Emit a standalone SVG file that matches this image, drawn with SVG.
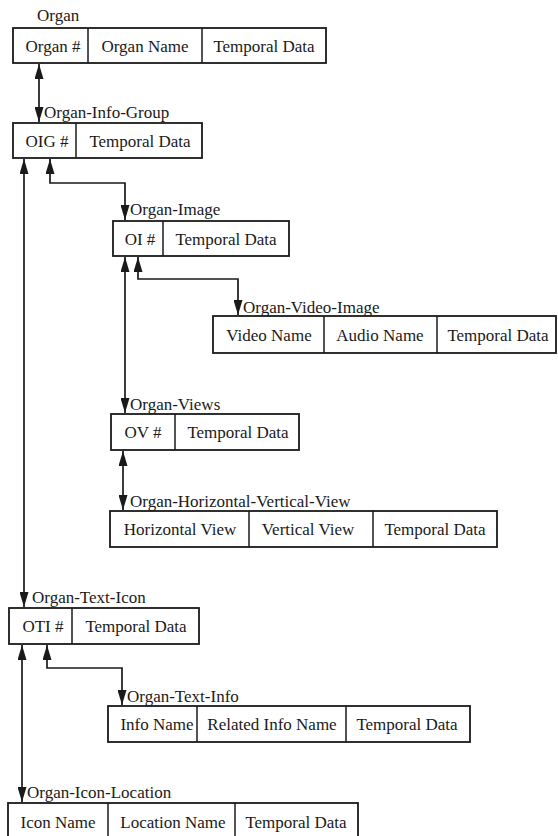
<svg xmlns="http://www.w3.org/2000/svg" width="558" height="836" viewBox="0 0 558 836">
  <style>
    .box { fill: #fff; stroke: #1a1a1a; stroke-width: 1.8; }
    .div { stroke: #1a1a1a; stroke-width: 1.5; }
    .cell { font-family: "Liberation Serif", "DejaVu Serif", "Times New Roman", serif; font-size: 17px; fill: #1a1a1a; text-anchor: middle; }
    .name { font-family: "Liberation Serif", "DejaVu Serif", "Times New Roman", serif; font-size: 17px; fill: #1a1a1a; }
    .link { fill: none; stroke: #1a1a1a; stroke-width: 1.7; marker-start: url(#head); marker-end: url(#head); }
  </style>
  <defs>
    <marker id="head" viewBox="0 0 15 9" refX="15" refY="4.5" markerWidth="15" markerHeight="9" markerUnits="userSpaceOnUse" orient="auto-start-reverse">
      <path d="M0,0 L15,4.5 L0,9 Z" fill="#1a1a1a"/>
    </marker>
  </defs>
  <rect width="558" height="836" fill="#fff"/>

  <!-- relationship connectors -->
  <g id="connectors">
    <path class="link" d="M39,64 V122"/>
    <path class="link" d="M24,159 V607"/>
    <path class="link" d="M50,159 V183 H125 V220"/>
    <path class="link" d="M125,257 V413"/>
    <path class="link" d="M138,257 V279 H238 V315"/>
    <path class="link" d="M123,451 V510"/>
    <path class="link" d="M22,645 V802"/>
    <path class="link" d="M47,645 V668 H122 V705"/>
  </g>

  <g id="organ">
    <text class="name" x="37" y="21">Organ</text>
    <rect class="box" x="13" y="28" width="313" height="35"/>
    <line class="div" x1="88" y1="28" x2="88" y2="63"/>
    <line class="div" x1="202" y1="28" x2="202" y2="63"/>
    <text class="cell" x="53" y="52">Organ #</text>
    <text class="cell" x="145" y="52">Organ Name</text>
    <text class="cell" x="264" y="52">Temporal Data</text>
  </g>

  <g id="organ-info-group">
    <text class="name" x="44" y="118">Organ-Info-Group</text>
    <rect class="box" x="13" y="123" width="189" height="35"/>
    <line class="div" x1="76" y1="123" x2="76" y2="158"/>
    <text class="cell" x="47" y="147">OIG #</text>
    <text class="cell" x="140" y="147">Temporal Data</text>
  </g>

  <g id="organ-image">
    <text class="name" x="130" y="215">Organ-Image</text>
    <rect class="box" x="113" y="221" width="176" height="35"/>
    <line class="div" x1="163" y1="221" x2="163" y2="256"/>
    <text class="cell" x="140" y="245">OI #</text>
    <text class="cell" x="226" y="245">Temporal Data</text>
  </g>

  <g id="organ-video-image">
    <text class="name" x="243" y="313">Organ-Video-Image</text>
    <rect class="box" x="213" y="316" width="343" height="37"/>
    <line class="div" x1="324" y1="316" x2="324" y2="353"/>
    <line class="div" x1="437" y1="316" x2="437" y2="353"/>
    <text class="cell" x="269" y="341">Video Name</text>
    <text class="cell" x="380" y="341">Audio Name</text>
    <text class="cell" x="498" y="341">Temporal Data</text>
  </g>

  <g id="organ-views">
    <text class="name" x="130" y="410">Organ-Views</text>
    <rect class="box" x="111" y="414" width="188" height="36"/>
    <line class="div" x1="175" y1="414" x2="175" y2="450"/>
    <text class="cell" x="143" y="438">OV #</text>
    <text class="cell" x="238" y="438">Temporal Data</text>
  </g>

  <g id="organ-horizontal-vertical-view">
    <text class="name" x="130" y="507">Organ-Horizontal-Vertical-View</text>
    <rect class="box" x="110" y="511" width="387" height="36"/>
    <line class="div" x1="249" y1="511" x2="249" y2="547"/>
    <line class="div" x1="373" y1="511" x2="373" y2="547"/>
    <text class="cell" x="180" y="535">Horizontal View</text>
    <text class="cell" x="308" y="535">Vertical View</text>
    <text class="cell" x="435" y="535">Temporal Data</text>
  </g>

  <g id="organ-text-icon">
    <text class="name" x="32" y="603">Organ-Text-Icon</text>
    <rect class="box" x="9" y="608" width="190" height="36"/>
    <line class="div" x1="72" y1="608" x2="72" y2="644"/>
    <text class="cell" x="43" y="632">OTI #</text>
    <text class="cell" x="136" y="632">Temporal Data</text>
  </g>

  <g id="organ-text-info">
    <text class="name" x="127" y="702">Organ-Text-Info</text>
    <rect class="box" x="108" y="706" width="362" height="36"/>
    <line class="div" x1="197" y1="706" x2="197" y2="742"/>
    <line class="div" x1="346" y1="706" x2="346" y2="742"/>
    <text class="cell" x="157" y="730">Info Name</text>
    <text class="cell" x="272" y="730">Related Info Name</text>
    <text class="cell" x="407" y="730">Temporal Data</text>
  </g>

  <g id="organ-icon-location">
    <text class="name" x="27" y="798">Organ-Icon-Location</text>
    <rect class="box" x="8" y="803" width="350" height="40"/>
    <line class="div" x1="108" y1="803" x2="108" y2="843"/>
    <line class="div" x1="235" y1="803" x2="235" y2="843"/>
    <text class="cell" x="58" y="828">Icon Name</text>
    <text class="cell" x="173" y="828">Location Name</text>
    <text class="cell" x="296" y="828">Temporal Data</text>
  </g>
</svg>
